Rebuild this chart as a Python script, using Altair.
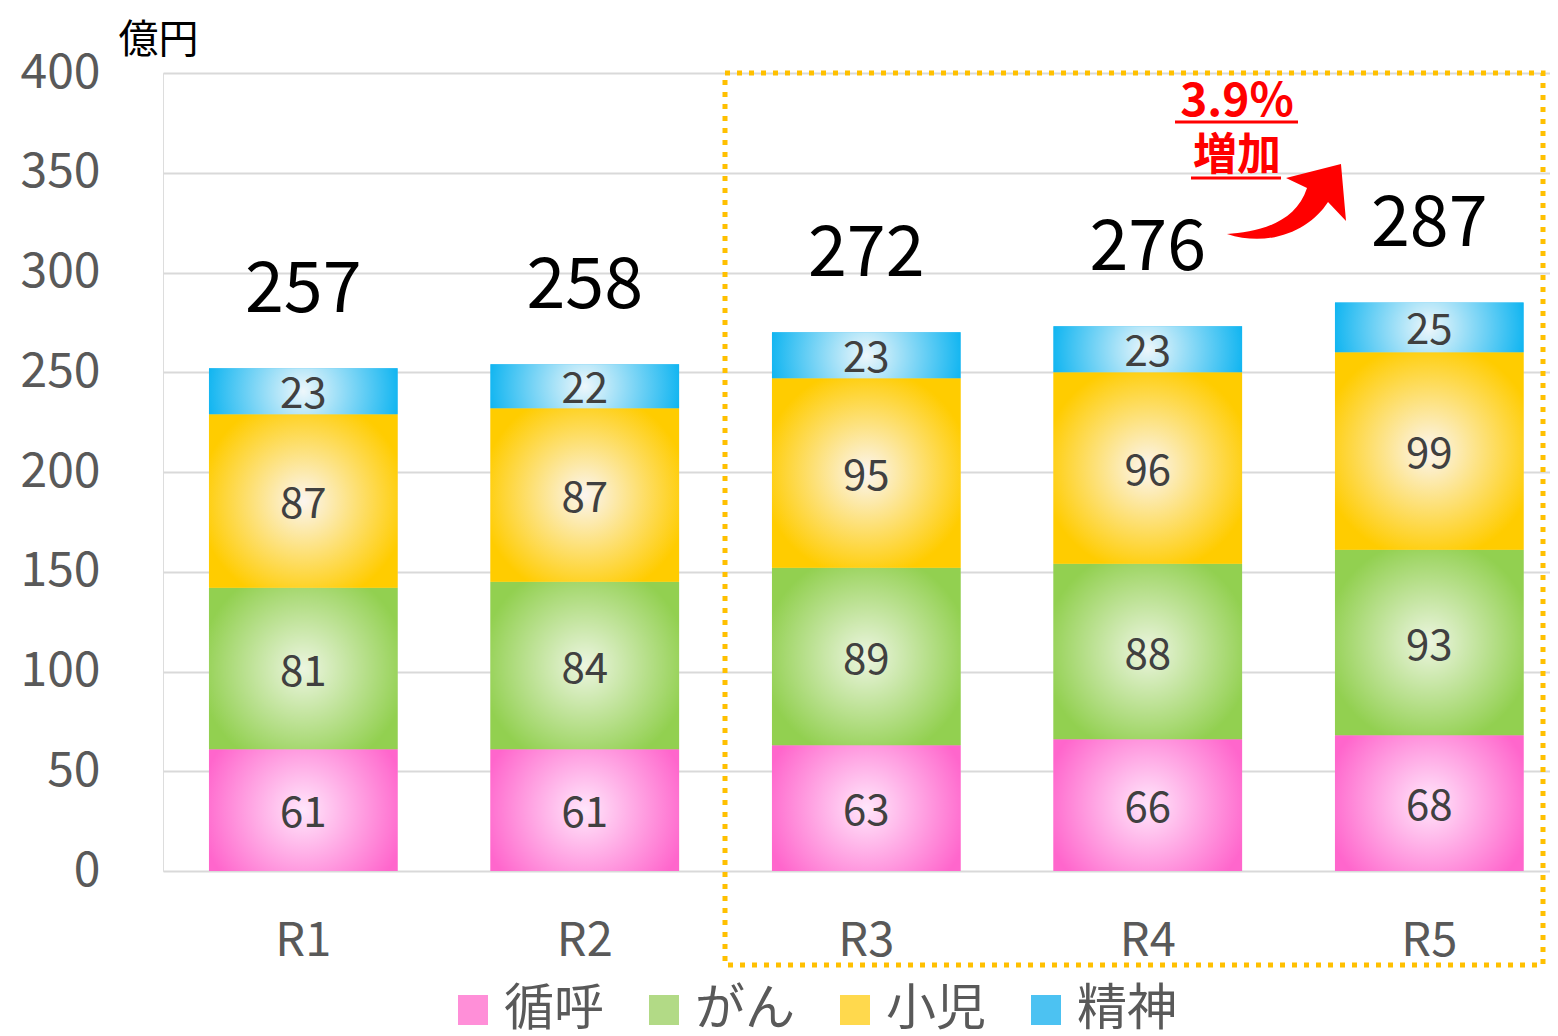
import altair as alt
import pandas as pd

# ---- data ----
years = ["R1", "R2", "R3", "R4", "R5"]
series = ["循呼", "がん", "小児", "精神"]
junko = [61, 61, 63, 66, 68]
gan = [81, 84, 89, 88, 93]
shoni = [87, 87, 95, 96, 99]
seishin = [23, 22, 23, 23, 25]
totals = [257, 258, 272, 276, 287]
y_ticks = [0, 50, 100, 150, 200, 250, 300, 350, 400]
unit_label = "億円"
rate_label = "3.9%"
increase_label = "増加"

# ---- styles ----
FONT = "Noto Sans CJK JP"
edge_colors = ["#FF66CC", "#92D050", "#FFCC00", "#00B0F0"]
center_colors = ["#FFE6FB", "#ECF5E0", "#FBF5F0", "#EEF7FB"]
legend_colors = ["#FF8FD8", "#B2DA86", "#FFD94D", "#4CC2F2"]

series_values = [junko, gan, shoni, seishin]
rows = []
for i, yr in enumerate(years):
    for j, s in enumerate(series):
        rows.append({"year": yr, "series": s, "order": j, "value": series_values[j][i]})
df = pd.DataFrame(rows)

tops = [sum(v[i] for v in series_values) for i in range(len(years))]
tot_df = pd.DataFrame({"year": years, "total": totals, "top": tops})
one = pd.DataFrame({"a": [0]})

W, H = 1387, 798

x_enc = alt.X(
    "year:N",
    scale=alt.Scale(domain=years, paddingInner=0.33, paddingOuter=0.1286, align=0.635),
    axis=alt.Axis(title=None, labelAngle=0, labelFontSize=47, labelColor="#595959",
                  labelPadding=47, ticks=False, domain=False, grid=False, labelFont=FONT),
)
y_scale = alt.Scale(domain=[0, 400], nice=False)
y_axis = alt.Axis(
    values=y_ticks, title=unit_label, titleAngle=0, titleX=-45, titleY=-33,
    titleAlign="left", titleBaseline="middle", titleFontSize=40, titleFontWeight="normal",
    titleColor="black", titleFont=FONT, labelFontSize=48, labelColor="#595959",
    labelPadding=63, ticks=False, domain=False, gridColor="#D9D9D9", gridWidth=2,
    labelFont=FONT,
)


def Y(field):
    return alt.Y(field, scale=y_scale, axis=y_axis)


stacked = alt.Chart(df).transform_stack(
    stack="value", groupby=["year"], as_=["y0", "y1"],
    sort=[alt.SortField("order", "ascending")],
)

solid = stacked.mark_bar().encode(
    x=x_enc,
    y=Y("y0:Q"),
    y2="y1:Q",
    color=alt.Color(
        "series:N",
        scale=alt.Scale(domain=series, range=legend_colors),
        legend=alt.Legend(
            title=None, orient="none", legendX=285, legendY=912, direction="horizontal",
            symbolType="square", symbolSize=900, symbolStrokeWidth=0, symbolOpacity=1,
            labelFontSize=50, labelColor="#595959", labelOffset=6, columnPadding=35,
            padding=0, labelLimit=0, labelFont=FONT,
        ),
    ),
)

layers = [solid]
for j, s in enumerate(series):
    grad = alt.RadialGradient(
        gradient="radial",
        stops=[alt.GradientStop(color=center_colors[j], offset=0),
               alt.GradientStop(color=edge_colors[j], offset=1)],
        x1=0.5, y1=0.5, r1=0, x2=0.5, y2=0.5, r2=0.55,
    )
    layers.append(
        stacked.transform_filter(alt.datum.series == s)
        .mark_bar(fill=grad, strokeWidth=0)
        .encode(x=x_enc, y=Y("y0:Q"), y2="y1:Q")
    )

seg_text = stacked.transform_calculate(mid="(datum.y0 + datum.y1) / 2").mark_text(
    fontSize=42, color="#404040", baseline="middle", dy=4, font=FONT
).encode(x=x_enc, y=Y("mid:Q"), text="value:Q")

tot_text = alt.Chart(tot_df).mark_text(
    fontSize=70, color="black", baseline="middle", dy=-77, font=FONT
).encode(x=x_enc, y=Y("top:Q"), text="total:Q")

# ---- annotations ----
box = alt.Chart(one).mark_rect(
    filled=False, stroke="#FFC000", strokeWidth=5, strokeDash=[5, 7], fillOpacity=0
).encode(x=alt.value(562), x2=alt.value(1380), y=alt.value(0), y2=alt.value(892))

arrow_path = ("M-0.992,0.467 C-0.525,0.433 0.142,0.317 0.342,-0.3 L-0.008,-0.467 "
              "L0.908,-0.7 L0.992,0.25 L0.692,-0.067 C0.392,0.4 -0.275,0.7 -0.992,0.467 Z")
arrow = alt.Chart(one).mark_point(
    shape=arrow_path, size=14400, filled=True, color="#FF0000", strokeWidth=0, opacity=1
).encode(x=alt.value(1123.5), y=alt.value(133))

rate_txt = alt.Chart(one).mark_text(
    fontSize=46, fontWeight="bold", color="#FF0000", baseline="middle", font=FONT
).encode(x=alt.value(1074), y=alt.value(29), text=alt.value(rate_label))
rate_ul = alt.Chart(one).mark_rule(color="#FF0000", strokeWidth=3).encode(
    x=alt.value(1012), x2=alt.value(1135), y=alt.value(49))
inc_txt = alt.Chart(one).mark_text(
    fontSize=44, fontWeight="bold", color="#FF0000", baseline="middle", font=FONT
).encode(x=alt.value(1074), y=alt.value(84), text=alt.value(increase_label))
inc_ul = alt.Chart(one).mark_rule(color="#FF0000", strokeWidth=3).encode(
    x=alt.value(1028), x2=alt.value(1118), y=alt.value(105))

chart = alt.layer(
    *layers, seg_text, tot_text, box, arrow, rate_txt, rate_ul, inc_txt, inc_ul
).properties(
    width=W, height=H,
    autosize=alt.AutoSizeParams(type="none"),
    padding={"left": 155, "top": 65, "right": 0, "bottom": 162},
).configure_view(stroke=None).configure(font=FONT)

chart.save("out.html", embed_options={"renderer": "svg", "actions": False})
